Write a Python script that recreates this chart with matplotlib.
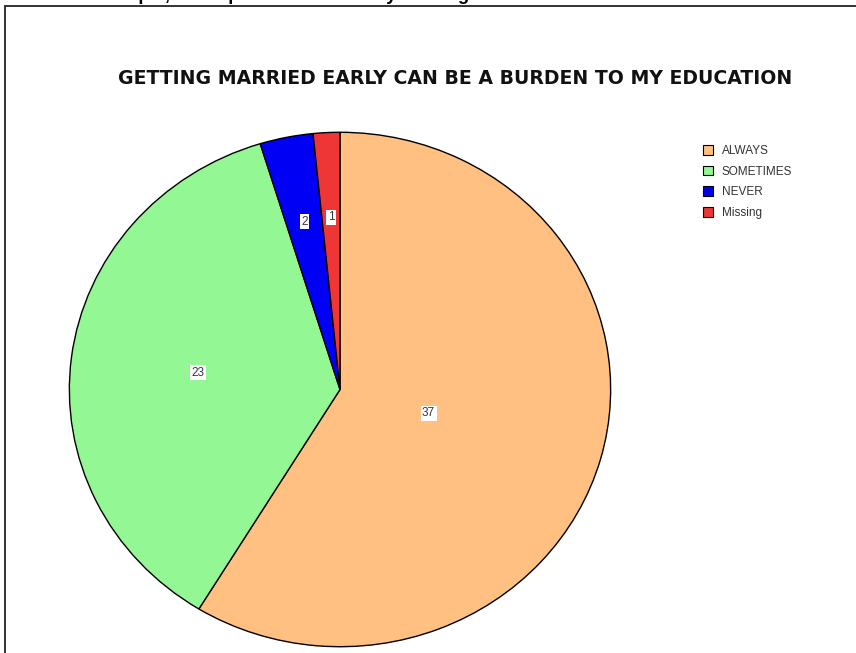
import matplotlib
matplotlib.use("Agg")
import matplotlib.pyplot as plt
import numpy as np
from matplotlib.patches import Rectangle

plt.rcParams['font.family'] = ['Liberation Sans', 'DejaVu Sans']

title = "GETTING MARRIED EARLY CAN BE A BURDEN TO MY EDUCATION"
top_caption = "Chart pie, all responses to the early marriage"
categories = ["ALWAYS", "SOMETIMES", "NEVER", "Missing"]
counts = [37, 23, 2, 1]
colors = ["#FFC081", "#93F893", "#0000F5", "#EE3636"]
label_radius = [0.34, 0.53, 0.665, 0.67]

W, H = 856, 653
fig = plt.figure(figsize=(W / 100, H / 100), dpi=100)

# frame border (top and left edges visible)
fig.patches.append(Rectangle((5 / W, -0.1), 1.2, (H - 5.5) / H + 0.1,
                             transform=fig.transFigure, fill=False,
                             edgecolor="#222222", linewidth=1.3))

# partially clipped caption at very top (only descenders visible in reference)
fig.text(85 / W, 1.0, top_caption, ha="left", va="baseline",
         fontsize=13.3, fontweight="bold", color="black")

fig.text(455 / W, 1 - 78 / H, title, ha="center", va="center",
         fontsize=13.6, fontweight="bold", color="#111111",
         family=["DejaVu Sans"])

ax = fig.add_axes([68 / W, 5 / H, 544 / W, 517 / H])
wedges, _ = ax.pie(counts, colors=colors, startangle=90, counterclock=False,
                   wedgeprops=dict(edgecolor="black", linewidth=1.0))
ax.set_aspect("auto")
ax.set_xlim(-1.005, 1.005)
ax.set_ylim(-1.005, 1.005)
ax.axis("off")

total = sum(counts)
start = 90.0
for c, r in zip(counts, label_radius):
    span = 360.0 * c / total
    mid = np.deg2rad(start - span / 2)
    ax.text(r * np.cos(mid), r * np.sin(mid), str(c), ha="center", va="center",
            fontsize=8.5, color="#333344",
            bbox=dict(boxstyle="square,pad=0.12", facecolor="white", edgecolor="none"))
    start -= span

leg = fig.legend(wedges, categories, loc="upper left",
                 bbox_to_anchor=(698 / W, 1 - 140 / H), frameon=False,
                 fontsize=8.5, handlelength=0.9, handleheight=0.9,
                 handletextpad=0.7, labelspacing=0.75, borderaxespad=0)
for t in leg.get_texts():
    t.set_color("#333333")
for h in leg.legend_handles:
    h.set_linewidth(0.8)

fig.savefig("out.png", dpi=100)
